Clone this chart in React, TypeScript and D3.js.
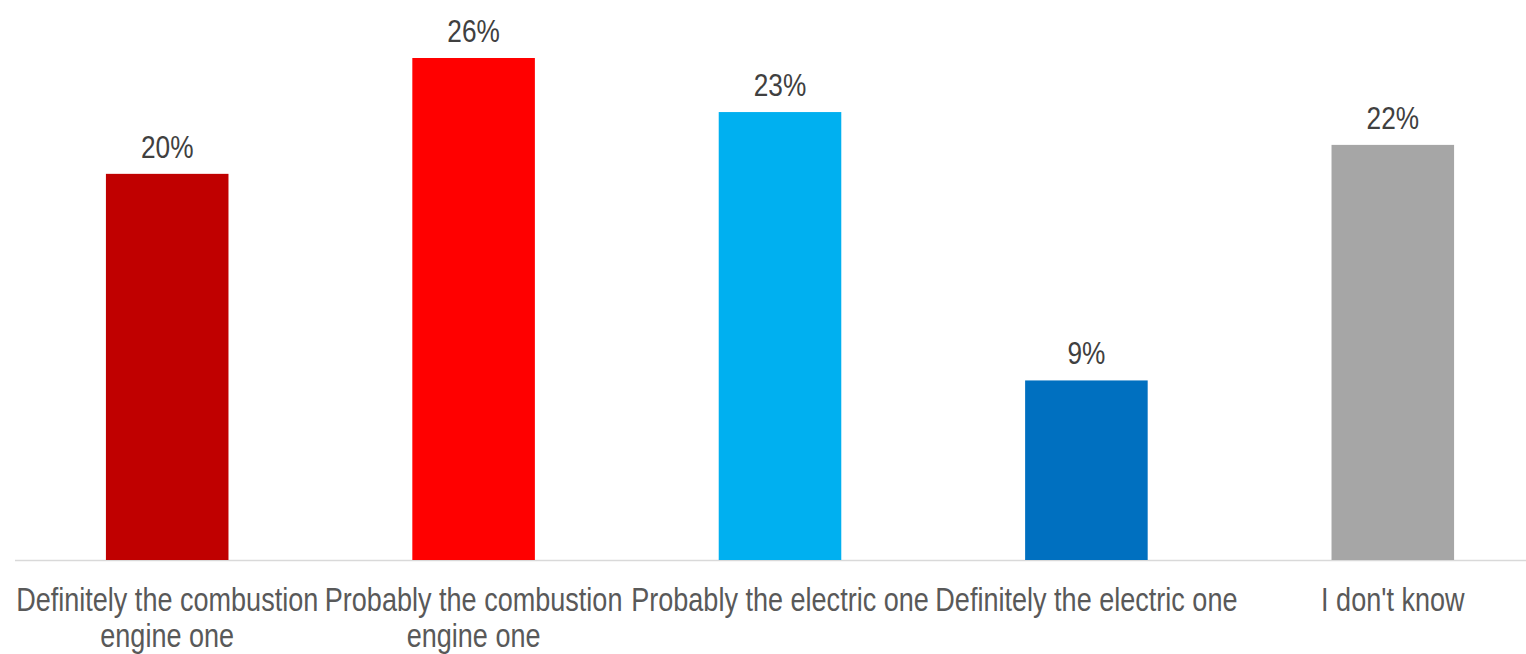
import React from "react";
import * as d3 from "d3";

const categories = [
  "Definitely the combustion engine one",
  "Probably the combustion engine one",
  "Probably the electric one",
  "Definitely the electric one",
  "I don't know",
];
const values = [0.2, 0.26, 0.232, 0.093, 0.215];
const colors = ["#C00000", "#FF0000", "#00B0F0", "#0070C0", "#A6A6A6"];

const W = 1526;
const H = 654;
const FONT = "'Liberation Sans', Arial, sans-serif";
const NARROW = 0.82;
const CAT_SIZE = 33;
const VAL_SIZE = 32;

function wrap(text: string, maxW: number, font: string): string[] {
  const canvas = document.createElement("canvas");
  const ctx = canvas.getContext("2d");
  if (!ctx) return [text];
  ctx.font = font;
  const words = text.split(" ");
  const lines: string[] = [];
  let cur = "";
  for (const w of words) {
    const t = cur ? cur + " " + w : w;
    if (ctx.measureText(t).width * NARROW > maxW && cur) {
      lines.push(cur);
      cur = w;
    } else cur = t;
  }
  if (cur) lines.push(cur);
  return lines;
}

export default function App() {
  const x = d3
    .scaleBand<string>()
    .domain(categories)
    .range([14, 1546])
    .paddingInner(0.6)
    .paddingOuter(0.3);
  const y = d3.scaleLinear().domain([0, 0.26]).range([560, 58]);
  const fmt = d3.format(".0%");

  return (
    <svg
      width={W}
      height={H}
      style={{ position: "absolute", left: 0, top: 0, background: "#fff" }}
      fontFamily={FONT}
    >
      <line x1={15} x2={W} y1={560.5} y2={560.5} stroke="#D9D9D9" strokeWidth={1.5} />
      {categories.map((c, i) => {
        const bx = x(c) as number;
        const bw = x.bandwidth();
        const cx = bx + bw / 2;
        const lines = wrap(c, x.step(), `${CAT_SIZE}px ${FONT}`);
        return (
          <g key={c}>
            <rect x={bx} y={y(values[i])} width={bw} height={y(0) - y(values[i])} fill={colors[i]} />
            <text
              transform={`translate(${cx},${y(values[i]) - 16}) scale(${NARROW},1)`}
              textAnchor="middle"
              fontSize={VAL_SIZE}
              fill="#404040"
            >
              {fmt(values[i])}
            </text>
            {lines.map((l, j) => (
              <text
                key={j}
                transform={`translate(${cx},${611 + j * 36}) scale(${NARROW},1)`}
                textAnchor="middle"
                fontSize={CAT_SIZE}
                fill="#595959"
              >
                {l}
              </text>
            ))}
          </g>
        );
      })}
    </svg>
  );
}
